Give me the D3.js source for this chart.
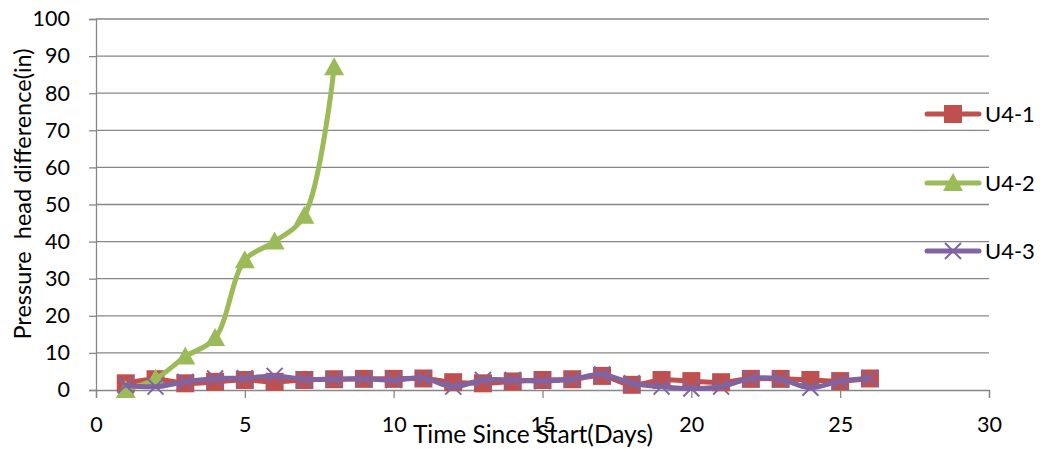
<!DOCTYPE html>
<html>
<head>
<meta charset="utf-8">
<script src="https://cdn.jsdelivr.net/npm/d3@7"></script>
<style>
  html, body { margin: 0; padding: 0; background: #fff; }
  svg { display: block; font-family: Lato, "Open Sans", sans-serif; }
</style>
</head>
<body>
<svg id="chart" width="1040" height="449"></svg>
<script>
// Days since start, shared by every series
const days = [1,2,3,4,5,6,7,8,9,10,11,12,13,14,15,16,17,18,19,20,21,22,23,24,25,26];
const u41 = [1.8,2.9,1.8,2.2,2.7,2.2,2.7,2.9,3.0,3.0,3.1,2.1,1.8,2.3,2.7,2.9,3.8,1.4,2.7,2.4,2.1,3.0,3.0,2.7,2.4,3.1];
const u42 = [0,3,9,14,35,40,47,87];
const u43 = [1.3,0.9,2.2,3.1,3.2,3.8,2.9,2.9,3.0,2.7,3.2,0.9,2.7,2.7,2.4,2.9,4.2,1.8,0.9,0.4,0.9,3.1,2.9,0.6,2.4,3.2];
const seriesNames = ["U4-1","U4-2","U4-3"];
const xTicks = [0,5,10,15,20,25,30];
const yTicks = [0,10,20,30,40,50,60,70,80,90,100];

const svg = d3.select("#chart");
const H = 449;

const x = d3.scaleLinear().domain([0,30]).range([96, 989]);
const y = d3.scaleLinear().domain([0,100]).range([390, 19]);

const gridColor = "#878787";
const tickFont = 21.5;

// horizontal gridlines
svg.append("g").selectAll("line").data(yTicks.filter(d => d > 0)).join("line")
  .attr("x1", x(0)).attr("x2", x(30))
  .attr("y1", d => y(d)).attr("y2", d => y(d))
  .attr("stroke", gridColor).attr("stroke-width", 1.3);

// y axis
const yAxis = svg.append("g").attr("transform", `translate(${x(0)},0)`)
  .call(d3.axisLeft(y).tickValues(yTicks).tickSize(7).tickPadding(19));
yAxis.select(".domain").attr("stroke", gridColor).attr("stroke-width", 1.3);
yAxis.selectAll(".tick line").attr("stroke", gridColor).attr("stroke-width", 1.3);
yAxis.selectAll("text").attr("font-size", tickFont).attr("fill", "#000")
  .attr("font-family", "Lato, 'Open Sans', sans-serif");

// x axis
const xAxis = svg.append("g").attr("transform", `translate(0,${y(0)})`)
  .call(d3.axisBottom(x).tickValues(xTicks).tickSize(8).tickPadding(19));
xAxis.select(".domain").attr("stroke", gridColor).attr("stroke-width", 1.3);
xAxis.selectAll(".tick line").attr("stroke", gridColor).attr("stroke-width", 1.3);
xAxis.selectAll("text").attr("font-size", tickFont).attr("fill", "#000")
  .attr("font-family", "Lato, 'Open Sans', sans-serif");

// axis titles
svg.append("text")
  .attr("x", 533).attr("y", 443)
  .attr("text-anchor", "middle").attr("font-size", 24.5).attr("fill", "#000")
  .text("Time Since Start(Days)");
svg.append("text")
  .attr("transform", `translate(31,194) rotate(-90)`)
  .attr("text-anchor", "middle").attr("font-size", 23.5).attr("fill", "#000")
  .attr("xml:space", "preserve")
  .text("Pressure  head difference(in)");

const colors = {"U4-1": "#C0504D", "U4-2": "#9BBB59", "U4-3": "#8064A2"};
const line = d3.line().x(d => x(d[0])).y(d => y(d[1])).curve(d3.curveCatmullRom.alpha(0.5));

const data = [
  {name: seriesNames[0], pts: days.map((d,i) => [d, u41[i]]), marker: "square"},
  {name: seriesNames[1], pts: u42.map((v,i) => [days[i], v]), marker: "triangle"},
  {name: seriesNames[2], pts: days.map((d,i) => [d, u43[i]]), marker: "cross"}
];

function drawMarker(g, type, cx, cy, color) {
  if (type === "square") {
    g.append("rect").attr("x", cx - 9).attr("y", cy - 9).attr("width", 18).attr("height", 18)
      .attr("fill", color);
  } else if (type === "triangle") {
    g.append("path").attr("d", `M${cx},${cy-10} L${cx+10},${cy+8} L${cx-10},${cy+8} Z`)
      .attr("fill", color);
  } else {
    g.append("path").attr("d", `M${cx-8},${cy-8} L${cx+8},${cy+8} M${cx-8},${cy+8} L${cx+8},${cy-8}`)
      .attr("stroke", color).attr("stroke-width", 2).attr("fill", "none");
  }
}

const plot = svg.append("g");
data.forEach(s => {
  const g = plot.append("g");
  g.append("path").attr("d", line(s.pts)).attr("fill", "none")
    .attr("stroke", colors[s.name]).attr("stroke-width", 5)
    .attr("stroke-linejoin", "round").attr("stroke-linecap", "round");
  s.pts.forEach(p => drawMarker(g, s.marker, x(p[0]), y(p[1]), colors[s.name]));
});

// legend
const legendY = [114, 183, 251];
const legend = svg.append("g");
data.forEach((s, i) => {
  const g = legend.append("g");
  const ly = legendY[i];
  g.append("line").attr("x1", 927).attr("x2", 979).attr("y1", ly).attr("y2", ly)
    .attr("stroke", colors[s.name]).attr("stroke-width", 5).attr("stroke-linecap", "round");
  drawMarker(g, s.marker, 953, ly, colors[s.name]);
  g.append("text").attr("x", 985).attr("y", ly + 8).attr("font-size", 22).attr("fill", "#000")
    .text(s.name);
});
</script>
</body>
</html>
